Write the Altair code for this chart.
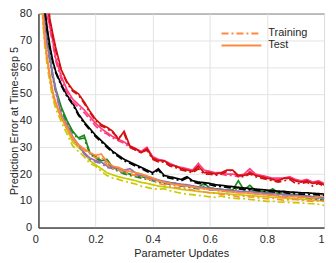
import altair as alt
import pandas as pd

XS = [0.01, 0.02, 0.03, 0.04, 0.05, 0.06, 0.08, 0.10, 0.12, 0.14,
      0.16, 0.18, 0.20, 0.22, 0.24, 0.26, 0.28, 0.30, 0.32, 0.34,
      0.36, 0.38, 0.40, 0.42, 0.44, 0.46, 0.48, 0.50, 0.52, 0.54,
      0.56, 0.58, 0.60, 0.62, 0.64, 0.66, 0.68, 0.70, 0.72, 0.74,
      0.76, 0.78, 0.80, 0.82, 0.84, 0.86, 0.88, 0.90, 0.92, 0.94,
      0.96, 0.98, 1.00]

RED_TEST = [130, 105, 88, 78, 72.5, 67.5, 59, 54.5, 51.5, 50,
            47, 43.5, 40.5, 38.5, 37.5, 36, 33, 36, 30.5, 29.5,
            28, 29.5, 26, 25, 25, 23.5, 23, 22, 21.5, 21,
            23, 20.5, 20.5, 20, 20.5, 21.5, 21.5, 19.5, 19.5, 20.5,
            19.5, 19, 18.5, 18, 17.5, 18.5, 18.5, 17.5, 17, 17.5,
            16.5, 17, 16]
RED_TRAIN = [128, 103, 86, 77, 71.5, 66.5, 58.5, 54, 51, 49.5,
             46.5, 43, 40, 38, 37, 35.5, 33.5, 35, 30, 29,
             28, 29, 25.5, 24.5, 24.5, 23, 22.5, 21.5, 21, 20.5,
             22, 20, 20, 19.5, 20, 21, 21.5, 19, 19, 20,
             19, 18.5, 18, 17.5, 17, 17.5, 18, 16.5, 16.5, 17,
             15.5, 16.5, 15.5]
PINK_TEST = [120, 98, 82, 75, 70, 63.5, 56.5, 51.5, 48, 46,
             44, 41.5, 39, 37, 35.5, 34, 33, 32, 30.5, 29.5,
             28.5, 30, 26.5, 25.5, 25, 24, 23, 22.5, 22, 21.5,
             24, 21.5, 21, 20.5, 20.5, 20, 20, 19.5, 20, 22,
             20, 19.5, 19, 18.5, 18.5, 18.5, 19, 18, 17.5, 18,
             17, 17.5, 16.5]
PINK_TRAIN = [118, 96, 80, 74, 69, 62.5, 55.5, 50.5, 47, 45,
              43, 40.5, 38, 36, 35, 33.5, 32.5, 31.5, 30, 29,
              28, 29.5, 26, 25, 24.5, 23.5, 22.5, 22, 21.5, 21,
              23, 21, 20.5, 20, 20, 19.5, 19.5, 19, 19.5, 21,
              19.5, 19, 18.5, 18, 18, 18, 18.5, 17.5, 17, 17.5,
              16.5, 17, 16]
BLACK_TEST = [110, 84, 75, 68, 62.5, 58.5, 53.5, 49.5, 46.5, 42.5,
              39.5, 37, 34.5, 32.5, 30.5, 28.5, 27, 25.5, 24.5, 23.5,
              22.5, 21.5, 20.5, 22, 19.5, 19, 18.5, 18, 19, 17.5,
              17, 16.8, 16.5, 16, 15.8, 15.5, 15.3, 15, 14.8, 14.6,
              14.4, 14.2, 14, 13.8, 13.6, 13.5, 13.3, 13.2, 13, 13,
              12.8, 12.7, 12.5]
BLACK_TRAIN = [108, 83, 74, 67, 62, 58, 53, 49, 46, 42,
               39, 36.5, 34, 32, 30, 28, 26.5, 25, 24, 23,
               22, 21, 20, 21.5, 19, 18.5, 18, 17.5, 18.5, 17,
               16.5, 16.3, 16, 15.5, 15.3, 15, 14.8, 14.5, 14.3, 14.1,
               13.9, 13.7, 13.5, 13.3, 13.1, 13, 12.8, 12.7, 12.5, 12.5,
               12.3, 12.2, 12]
GREEN_TEST = [105, 84, 72, 64, 57, 52, 45, 40, 36, 33.5,
              34.5, 28, 26.5, 25, 25.5, 22.5, 21.5, 20.5, 20, 19.5,
              19, 18.5, 18, 17.5, 17, 16.8, 16.5, 16, 15.7, 15.3,
              15, 16.5, 14.8, 14.5, 14.3, 14, 14, 17.5, 14, 15.8,
              13.8, 13.5, 13.2, 14.5, 13, 13.5, 12.5, 12.3, 12, 11.8,
              11.5, 11.3, 11]
GREEN_TRAIN = [103, 82, 71, 63, 56, 51, 44, 39, 35.5, 33,
               33.5, 27.5, 26, 24.5, 24.5, 22, 21, 20, 19.5, 19,
               18.5, 18, 17.5, 17, 16.5, 16.2, 16, 15.5, 15.2, 14.8,
               14.5, 15.5, 14.2, 14, 13.8, 13.5, 13.4, 15, 13.5, 14.5,
               13.2, 13, 12.7, 13.5, 12.5, 12.5, 12, 11.8, 11.5, 11.2,
               10.8, 10.5, 10.3]
PURPLE_TEST = [100, 80, 69.5, 63, 57.5, 52, 42, 38.5, 34, 31,
               28, 26, 25, 24.5, 23, 22.5, 22, 21.5, 22, 20.5,
               19.8, 19.1, 18.5, 17.8, 17.3, 16.8, 16.5, 16.2, 16, 15.6,
               15.2, 15, 14.7, 14.4, 14.2, 14, 13.8, 13.6, 13.5, 13.4,
               13.2, 13, 12.8, 12.6, 12.5, 12.3, 12.2, 12, 11.8, 11.7,
               11.5, 11.3, 11.2]
PURPLE_TRAIN = [98, 79, 68.5, 62, 56.5, 51, 41.5, 38, 33.5, 30.5,
                27.5, 25.5, 24.5, 24, 22.5, 22, 21.5, 21, 21.5, 20,
                19.3, 18.6, 18, 17.3, 16.8, 16.3, 16, 15.7, 15.5, 15.1,
                14.7, 14.5, 14.2, 13.9, 13.7, 13.5, 13.3, 13.1, 13, 12.9,
                12.7, 12.5, 12.3, 12.1, 12, 11.8, 11.7, 11.5, 11.3, 11.2,
                11, 10.8, 10.7]
ORANGE_TEST = [90, 73, 64, 57, 51, 47, 41.5, 37.5, 33.5, 31,
               29.5, 28, 27, 27.5, 24.5, 23, 22.5, 21.5, 21, 20.5,
               20, 19.3, 18.5, 17.5, 17, 16.5, 16, 15.8, 15.5, 15.2,
               14.8, 14.5, 14.2, 14, 13.8, 13.5, 13.3, 13, 13, 12.8,
               12.6, 12.4, 12.2, 12, 11.8, 11.3, 11.5, 11.6, 11.4, 11.2,
               11, 11.5, 12]
ORANGE_TRAIN = [88, 72, 63, 56, 50, 46, 41, 37, 33, 30.5,
                29, 27.5, 26, 26.5, 23.5, 22, 21.5, 20.5, 20, 19.5,
                19, 18.3, 17.5, 16.5, 16, 15.5, 15, 14.8, 14.5, 14,
                13.6, 13.3, 13, 12.8, 12.5, 12.2, 12, 11.5, 11.8, 11.5,
                11.3, 11, 10.8, 11, 10.5, 10.2, 10.5, 10.5, 10.2, 10,
                9.8, 10, 9.8]
YELLOW_TEST = [88, 72, 63, 56, 50, 46, 41, 36.7, 32, 30,
               28, 25, 23.5, 22, 20.5, 19.7, 19, 18.5, 18, 17.5,
               16.9, 16.5, 16, 15.5, 15.2, 15, 14.6, 14.3, 14, 13.8,
               13.5, 13.3, 13, 12.9, 12.8, 12.6, 12.4, 12.3, 12.1, 12,
               11.8, 11.6, 11.5, 11.3, 11.2, 11, 10.8, 10.8, 10.6, 10.5,
               10.3, 10.1, 10]
YELLOW_TRAIN = [86, 70, 61, 54, 48.5, 44.5, 39.5, 35, 30.5, 28.5,
                26.5, 24, 23, 21, 19.5, 18.5, 18, 17.3, 16.8, 16.3,
                15.5, 15, 14.5, 14.3, 14.5, 13.8, 13.3, 12.8, 12.5, 12.3,
                12, 11.8, 11.5, 11.3, 11.8, 11.2, 11, 10.8, 10.8, 10.5,
                10.3, 10, 9.8, 9.8, 9.6, 9.5, 9.4, 9.3, 9.2, 9,
                8.9, 8.7, 8.3]

SERIES = ["yellow", "green", "purple", "orange", "black", "pink", "red"]
COLORS = ["#c9c900", "#1b8a1b", "#9072ae", "#ff8a3d", "#000000", "#ff3d80", "#d40f0f"]
KINDS = ["Training", "Test"]
X_TICKS = [0, 0.2, 0.4, 0.6, 0.8, 1]
Y_TICKS = [0, 10, 20, 30, 40, 50, 60, 70, 80]

table = {
    "yellow": (YELLOW_TRAIN, YELLOW_TEST),
    "green": (GREEN_TRAIN, GREEN_TEST),
    "purple": (PURPLE_TRAIN, PURPLE_TEST),
    "orange": (ORANGE_TRAIN, ORANGE_TEST),
    "black": (BLACK_TRAIN, BLACK_TEST),
    "pink": (PINK_TRAIN, PINK_TEST),
    "red": (RED_TRAIN, RED_TEST),
}
rows = []
for order, name in enumerate(SERIES):
    train, test = table[name]
    for kind, vals in (("Training", train), ("Test", test)):
        for x, v in zip(XS, vals):
            rows.append({"x": x, "err": v, "series": name, "kind": kind, "o": order})
df = pd.DataFrame(rows)

TXT = "#262626"

chart = alt.Chart(df).mark_line(clip=True, strokeWidth=1.7).encode(
    x=alt.X("x:Q", scale=alt.Scale(domain=[0, 1], nice=False),
            axis=alt.Axis(values=X_TICKS, format="~g", title="Parameter Updates",
                          labelPadding=6, titlePadding=3,
                          labelAlign={"condition": {"test": "datum.value == 0 || datum.value == 1", "value": "right"}, "value": "center"})),
    y=alt.Y("err:Q", scale=alt.Scale(domain=[0, 80], nice=False),
            axis=alt.Axis(values=Y_TICKS, title="Prediction Error at Time-step 5",
                          labelPadding=7, titleX=-19)),
    color=alt.Color("series:N", scale=alt.Scale(domain=SERIES, range=COLORS), legend=None),
    strokeDash=alt.StrokeDash("kind:N", scale=alt.Scale(domain=KINDS, range=[[7, 3, 2, 3], [1, 0]]),
                              legend=alt.Legend(title=None, orient="none", legendX=198, legendY=14,
                                                symbolType="M-4,0H4", symbolSize=100,
                                                symbolStrokeColor="#ff8a3d", symbolStrokeWidth=2,
                                                symbolFillColor="transparent",
                                                labelFontSize=11, labelColor=TXT, labelFont="Liberation Sans",
                                                labelOffset=21, rowPadding=1, padding=0)),
    detail="series:N",
    order="o:Q",
).properties(
    width=287, height=215,
    autosize=alt.AutoSizeParams(type="none"),
    padding={"left": 30.6, "top": 5, "right": 4, "bottom": 34},
).configure_view(
    stroke=TXT, strokeWidth=1
).configure_axis(
    labelFont="Liberation Sans", titleFont="Liberation Sans",
    labelFontSize=11, titleFontSize=11, titleFontWeight="normal",
    labelColor=TXT, titleColor=TXT, domainColor=TXT,
    gridColor="#e3e3e3", ticks=False
)

chart.save("out.html", embed_options={"renderer": "svg", "actions": False})
